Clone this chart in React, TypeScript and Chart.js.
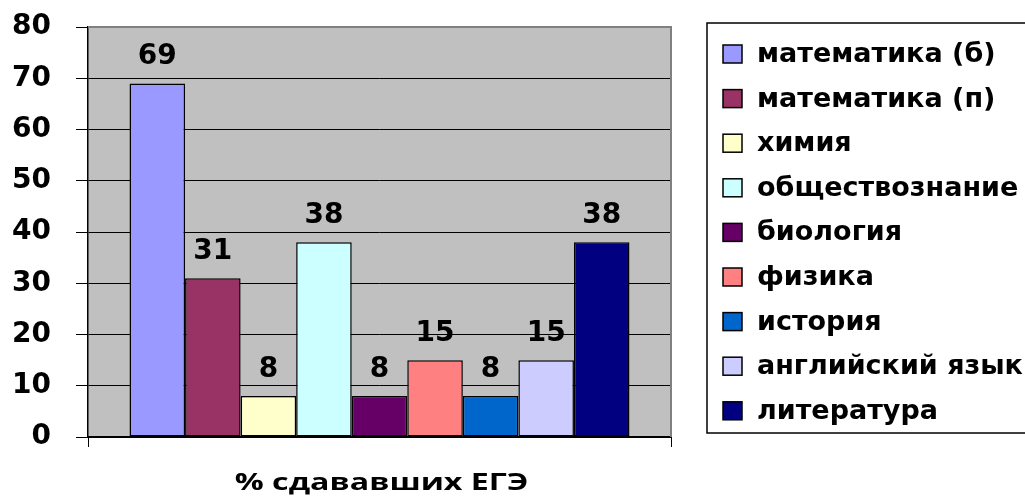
import React, { useEffect, useRef } from "react";
import { Chart, registerables } from "chart.js";

Chart.register(...registerables);

const categories: string[] = [""];
const seriesNames: string[] = [
  "математика (б)",
  "математика (п)",
  "химия",
  "обществознание",
  "биология",
  "физика",
  "история",
  "английский язык",
  "литература",
];
const seriesValues: number[] = [69, 31, 8, 38, 8, 15, 8, 15, 38];
const seriesColors: string[] = [
  "#9999FF",
  "#993366",
  "#FFFFCC",
  "#CCFFFF",
  "#660066",
  "#FF8080",
  "#0066CC",
  "#CCCCFF",
  "#000080",
];
const yTicks: number[] = [0, 10, 20, 30, 40, 50, 60, 70, 80];
const xTitle = "% сдававших ЕГЭ";

const NUM_FONT = "bold 28px 'DejaVu Sans'";
const LEGEND_FONT = "bold 27px 'DejaVu Sans'";
const TITLE_FONT = "bold 23px 'Open Sans'";

const plotBgPlugin = {
  id: "plotBg",
  beforeDraw(chart: any) {
    const { ctx, chartArea } = chart;
    ctx.save();
    ctx.fillStyle = "#C0C0C0";
    ctx.fillRect(chartArea.left, chartArea.top, chartArea.right - chartArea.left, chartArea.bottom - chartArea.top);
    ctx.restore();
  },
  afterDraw(chart: any) {
    const { ctx, chartArea } = chart;
    ctx.save();
    ctx.strokeStyle = "#808080";
    ctx.lineWidth = 2;
    ctx.beginPath();
    ctx.moveTo(chartArea.left, chartArea.top);
    ctx.lineTo(chartArea.right, chartArea.top);
    ctx.lineTo(chartArea.right, chartArea.bottom);
    ctx.stroke();
    ctx.restore();
  },
};

const valueLabelPlugin = {
  id: "valueLabels",
  afterDatasetsDraw(chart: any) {
    const { ctx } = chart;
    ctx.save();
    ctx.font = NUM_FONT;
    ctx.fillStyle = "#000";
    ctx.textAlign = "center";
    ctx.textBaseline = "alphabetic";
    chart.data.datasets.forEach((ds: any, i: number) => {
      const meta = chart.getDatasetMeta(i);
      meta.data.forEach((el: any, j: number) => {
        ctx.fillText(String(ds.data[j]), el.x, el.y - 19);
      });
    });
    ctx.restore();
  },
};

const xTitlePlugin = {
  id: "xTitleStretched",
  afterDraw(chart: any) {
    const { ctx, chartArea } = chart;
    const cx = (chartArea.left + chartArea.right) / 2 + 2;
    ctx.save();
    ctx.font = TITLE_FONT;
    ctx.fillStyle = "#000";
    ctx.textAlign = "center";
    ctx.textBaseline = "alphabetic";
    ctx.translate(cx, 490);
    ctx.scale(1.4, 1);
    ctx.fillText(xTitle, 0, 0);
    ctx.restore();
  },
};

const legendPlugin = {
  id: "boxLegend",
  afterDraw(chart: any) {
    const { ctx, chartArea } = chart;
    const left = chartArea.right + 36;
    const top = 23;
    const bottom = 433;
    const firstRow = 54;
    const step = 44.6;
    ctx.save();
    ctx.strokeStyle = "#000";
    ctx.lineWidth = 1.5;
    ctx.strokeRect(left, top, 400, bottom - top);
    ctx.font = LEGEND_FONT;
    ctx.textBaseline = "middle";
    ctx.textAlign = "left";
    chart.data.datasets.forEach((ds: any, i: number) => {
      const cy = firstRow + i * step;
      ctx.fillStyle = ds.backgroundColor;
      ctx.fillRect(left + 16, cy - 9, 19, 18);
      ctx.lineWidth = 1.5;
      ctx.strokeStyle = "#000";
      ctx.strokeRect(left + 16, cy - 9, 19, 18);
      ctx.fillStyle = "#000";
      ctx.fillText(ds.label, left + 50, cy + 1);
    });
    ctx.restore();
  },
};

export default function App() {
  const ref = useRef<HTMLCanvasElement | null>(null);
  useEffect(() => {
    if (!ref.current) return;
    const chart = new Chart(ref.current, {
      type: "bar",
      data: {
        labels: categories,
        datasets: seriesNames.map((name, i) => ({
          label: name,
          data: [seriesValues[i]],
          backgroundColor: seriesColors[i],
          borderColor: "#000",
          borderWidth: 1.5,
          borderSkipped: false,
          barPercentage: 1,
          categoryPercentage: 0.8576,
        })),
      },
      options: {
        animation: false,
        responsive: false,
        devicePixelRatio: 1,
        layout: { padding: { top: 27, right: 354, left: 0, bottom: 0 } },
        plugins: {
          legend: { display: false },
          tooltip: { enabled: false },
        },
        scales: {
          x: {
            afterFit: (s: any) => {
              s.height = 63;
            },
            ticks: { display: false },
            grid: {
              drawOnChartArea: false,
              drawTicks: true,
              tickLength: 10,
              tickColor: "#000",
              offset: true,
            },
            border: { color: "#000", width: 2 },
          },
          y: {
            min: 0,
            max: 80,
            afterFit: (s: any) => {
              s.width = 88;
              s.paddingTop = 0;
              s.paddingBottom = 0;
            },
            afterBuildTicks: (s: any) => {
              s.ticks = yTicks.map((v) => ({ value: v }));
            },
            ticks: {
              color: "#000",
              font: { family: "'DejaVu Sans'", weight: "bold", size: 28 },
              padding: 25,
            },
            grid: {
              color: "#000",
              lineWidth: 1,
              tickLength: 12,
              tickColor: "#000",
            },
            border: { color: "#000", width: 1.5 },
          },
        },
      },
      plugins: [plotBgPlugin, valueLabelPlugin, xTitlePlugin, legendPlugin],
    });
    return () => chart.destroy();
  }, []);
  return (
    <div style={{ position: "fixed", left: 0, top: 0, width: 1025, height: 500, background: "#fff" }}>
      <canvas ref={ref} width={1025} height={500} />
    </div>
  );
}
